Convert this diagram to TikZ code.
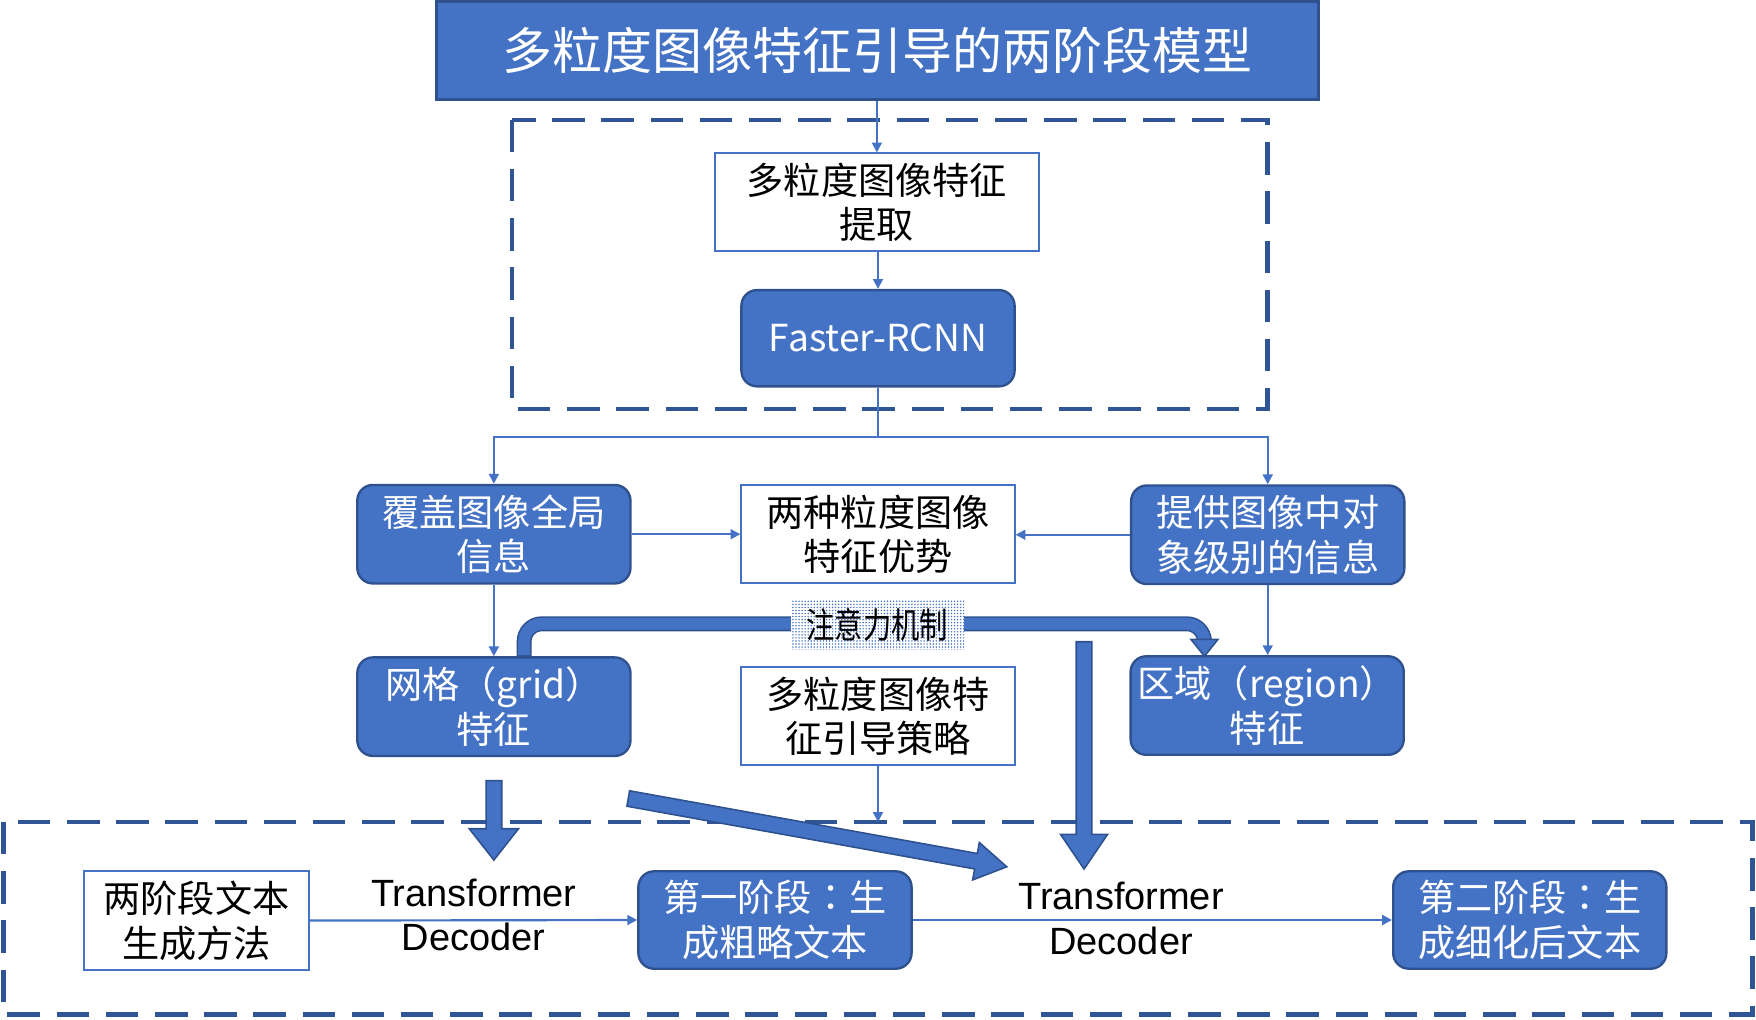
\documentclass[tikz,border=0pt]{standalone}
\usepackage{fontspec}
\setmainfont{Noto Sans CJK SC}
\newfontfamily\arialfont{Liberation Sans}
\newfontfamily\tcfont{Noto Sans CJK TC}
\newfontfamily\condfont[FakeStretch=0.8]{Noto Sans CJK SC}
\usetikzlibrary{arrows.meta,calc,patterns.meta}
\definecolor{bfill}{HTML}{4472C4}
\definecolor{bedge}{HTML}{2F528F}
\definecolor{dashc}{HTML}{2F5597}
\newcommand{\ccolon}{{\tcfont ：}}
\tikzset{
  boxtext/.style={font=\fontsize{18.9}{22.7}\selectfont, align=center, inner sep=0pt},
  bluebox/.style={boxtext, fill=bfill, draw=bedge, line width=1.2pt, rounded corners=0.28cm, text=white, minimum width=4.88cm, minimum height=1.76cm},
  whitebox/.style={boxtext, fill=white, draw=bfill, line width=1pt, text=black, minimum width=4.88cm, minimum height=1.74cm},
  dashbox/.style={draw=dashc, line width=2.3pt, dash pattern=on 16.5pt off 8.5pt},
  conn/.style={draw=bfill, line width=1.1pt},
  arr/.style={conn, -{Triangle[length=5pt,width=5pt]}},
  blockarrow/.style={fill=bfill, draw=bedge, line width=0.8pt, line join=miter},
  dectext/.style={font=\arialfont\fontsize{19.3}{22.7}\selectfont, align=center, inner sep=0pt, text=black}
}
\begin{document}
\begin{tikzpicture}[x=0.02cm, y=-0.02cm]
\useasboundingbox (0,0) rectangle (1568,910);

% dashed frames
\draw[dashbox] (457,107) rectangle (1132,365);
\draw[dashbox] (3,734) rectangle (1565,906);

% title
\node[fill=bfill, draw=bedge, line width=1.5pt, text=white, minimum width=15.74cm, minimum height=1.76cm, inner sep=0pt, font=\fontsize{25.4}{30}\selectfont] (title) at (783.5,45) {多粒度图像特征引导的两阶段模型};

% top section
\node[whitebox, minimum width=5.8cm] (extract) at (783,180.5) {多粒度图像特征\\提取};
\node[bluebox, minimum height=1.72cm] (frcnn) at (784,302) {Faster-RCNN};

% middle row
\node[bluebox] (global) at (441,477) {覆盖图像全局\\信息};
\node[whitebox, minimum height=1.76cm] (adv) at (784,477) {两种粒度图像\\特征优势};
\node[bluebox] (obj) at (1132,477.5) {提供图像中对\\象级别的信息};

\node[bluebox] (grid) at (441,631) {网格（grid）\\特征};
\node[whitebox] (strat) at (784,639.5) {多粒度图像特\\征引导策略};
\node[bluebox] (region) at (1131.5,630) {区域（region）\\特征};

% bottom row
\node[whitebox, minimum width=4.02cm, minimum height=1.76cm] (method) at (175.5,822) {两阶段文本\\生成方法};
\node[bluebox, minimum height=1.74cm] (stage1) at (692,821.5) {第一阶段\ccolon 生\\成粗略文本};
\node[bluebox, minimum height=1.74cm] (stage2) at (1366,821.5) {第二阶段\ccolon 生\\成细化后文本};

% thin connectors
\coordinate (split) at (784,390);
\coordinate (stratend) at (784,734);
\draw[arr] (title.south -| extract.north) -- (extract.north);
\draw[arr] (extract.south -| frcnn.north) -- (frcnn.north);
\draw[conn] (frcnn.south) -- (split);
\draw[arr] (split) -| (global.north);
\draw[arr] (split) -| (obj.north);
\draw[arr] (global.east) -- (adv.west);
\draw[arr] (obj.west) -- (obj.west -| adv.east);
\draw[arr] (global.south) -- (grid.north);
\draw[arr] (obj.south) -- (obj.south |- region.north);
\draw[arr] (strat.south) -- (stratend);
\draw[arr] (method.east) -- (stage1.west);
\draw[arr] (stage1.east) -- (stage2.west);

% Transformer Decoder labels (over the lines)
\node[dectext] (td1) at (423,817) {Transformer\\Decoder};
\node[dectext] (td2) at (1001,820) {Transformer\\Decoder};

% attention mechanism thick arrow
\coordinate (attA) at ($(grid.north)+(27,0)$);
\coordinate (attB) at ($(region.north)+(-56,-14)$);
\draw[draw=bedge, line width=7.6pt, rounded corners=9pt] (attA) -- (attA |- 0,557) -- (attB |- 0,557) -- (attB);
\draw[draw=bfill, line width=6pt, rounded corners=9pt] ($(attA)+(0,-1)$) -- (attA |- 0,557) -- (attB |- 0,557) -- ($(attB)+(0,1)$);
\fill[blockarrow] ($(attB)+(-12,0)$) -- ($(attB)+(12,0)$) -- ($(attB)+(0,15)$) -- cycle;

\node[inner sep=0pt, align=center, font=\condfont\fontsize{18}{20}\selectfont, minimum width=3.1cm, minimum height=0.88cm, fill=white, postaction={pattern={Dots[radius=0.42pt, distance=1.55pt]}, pattern color=bfill}] (attn) at (783.5,558) {注意力机制};

% block arrows
\draw[blockarrow] (434,697) -- (448,697) -- (448,740) -- (463,740) -- (441,768) -- (419,740) -- (434,740) -- cycle;
\draw[blockarrow] (961,573) -- (975,573) -- (975,745) -- (989,745) -- (968,776) -- (947,745) -- (961,745) -- cycle;
\draw[blockarrow] (562.2,706.1) -- (872.7,762.1) -- (874.5,752.3) -- (899,774) -- (868.5,785.7) -- (870.3,775.9) -- (559.8,719.9) -- cycle;
\end{tikzpicture}
\end{document}
